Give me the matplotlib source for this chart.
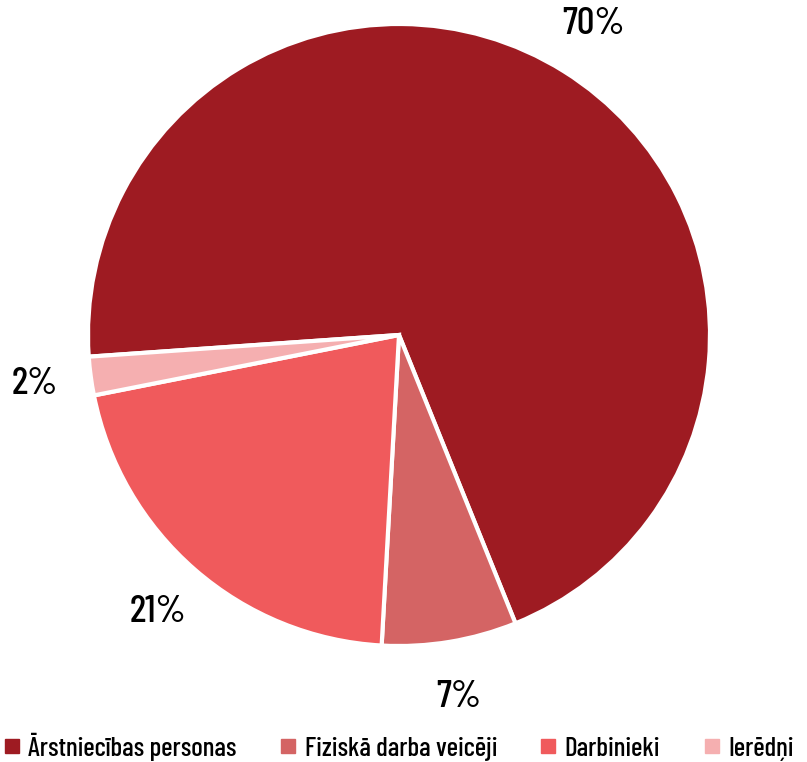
import matplotlib
matplotlib.use("Agg")
import matplotlib.pyplot as plt
from matplotlib.lines import Line2D

labels = ["Ārstniecības personas", "Fiziskā darba veicēji", "Darbinieki", "Ierēdņi"]
values = [70, 7, 21, 2]
colors = ["#9E1B22", "#D46464", "#F05A5C", "#F5AFB0"]

plt.rcParams['font.family'] = ['Barlow Condensed', 'DejaVu Sans']
plt.rcParams['font.weight'] = 'medium'

fig = plt.figure(figsize=(8.07, 7.62), dpi=100)
ax = fig.add_axes([88 / 807, 116 / 762, 622 / 807, 622 / 762])

ax.pie(values, colors=colors, startangle=184, counterclock=False, radius=1,
       autopct='%d%%', pctdistance=1.18,
       textprops={'fontsize': 28, 'color': 'black'},
       wedgeprops={'edgecolor': 'white', 'linewidth': 3})
ax.set_xlim(-1, 1)
ax.set_ylim(-1, 1)
ax.set_aspect('equal')
ax.axis('off')

handles = [Line2D([], [], marker='s', linestyle='none', markersize=10,
                  markerfacecolor=c, markeredgecolor=c) for c in colors]
fig.legend(handles, labels, loc='center left', bbox_to_anchor=(0.0, 0.02), ncol=4,
           frameon=False, fontsize=19.5, handlelength=0.5, handletextpad=0.35,
           columnspacing=1.65, borderpad=0, borderaxespad=0.2)

fig.savefig("out.png", dpi=100)
